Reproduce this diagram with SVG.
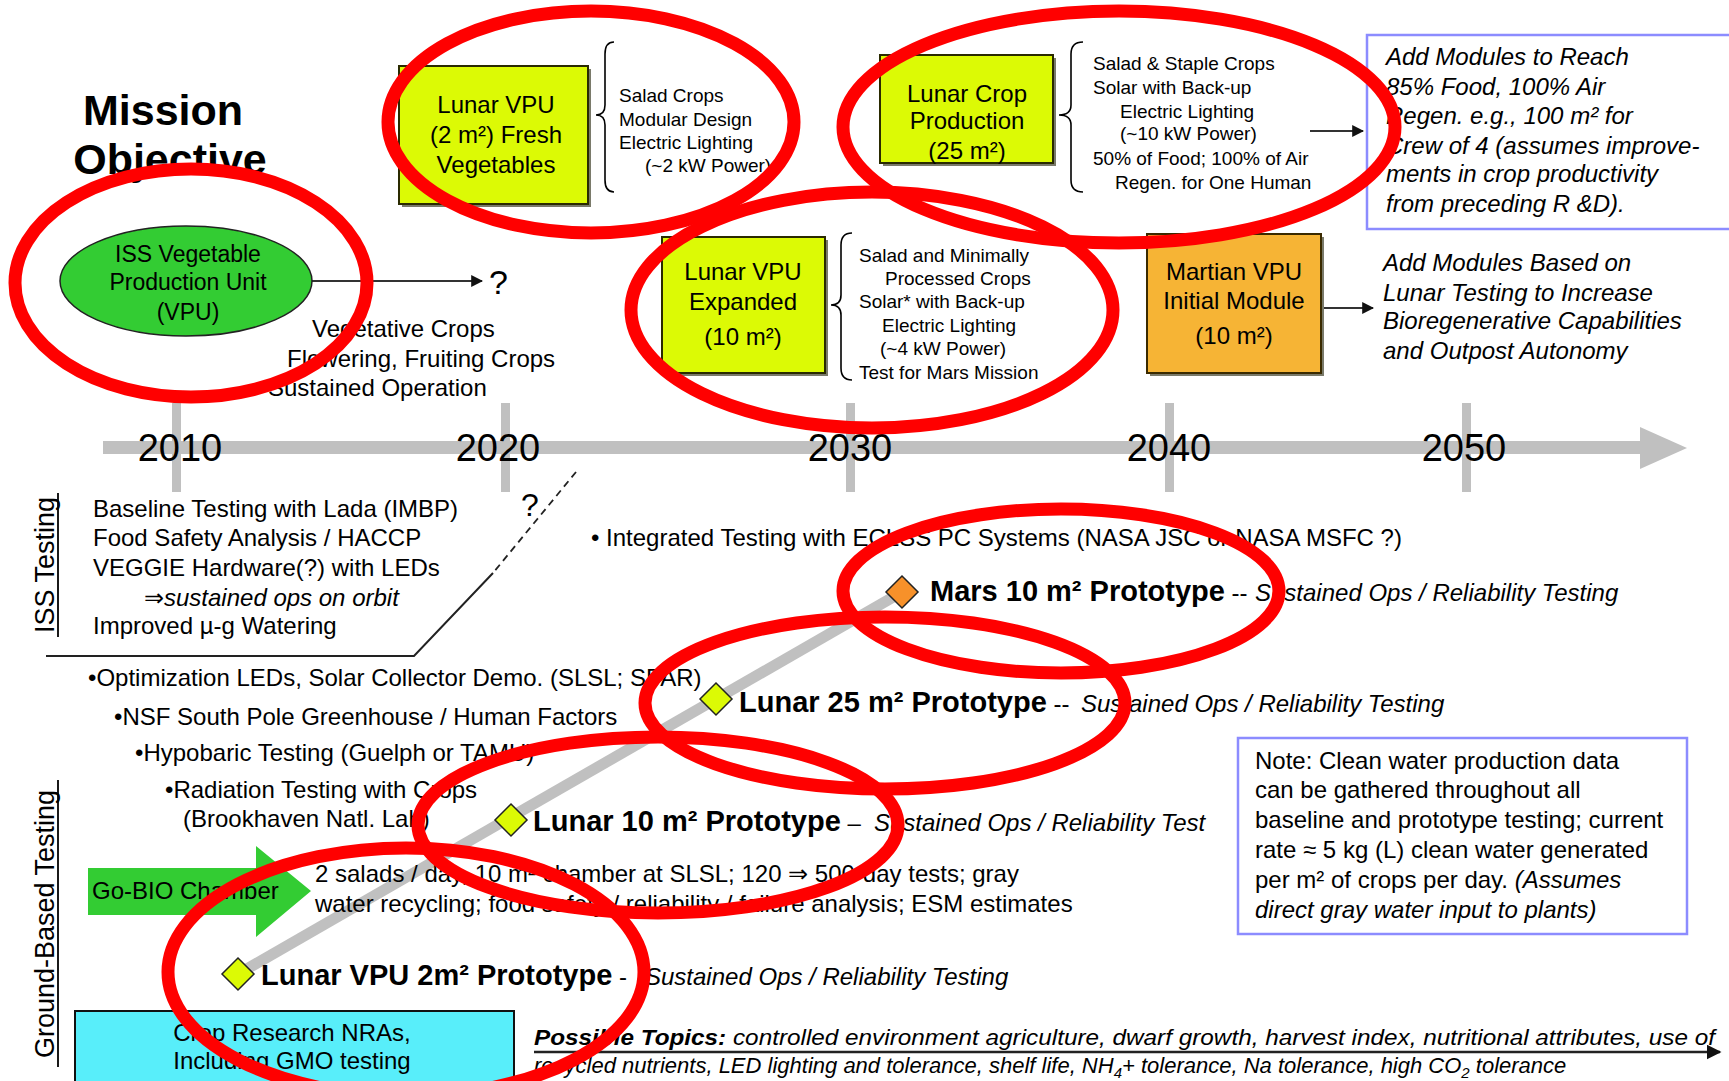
<svg xmlns="http://www.w3.org/2000/svg" width="1729" height="1081" viewBox="0 0 1729 1081">
<style>
text{font-family:"Liberation Sans",Arial,Helvetica,sans-serif;fill:#000}
.f24{font-size:24px}
.f19{font-size:19px}
.it{font-style:italic}
.b{font-weight:bold}
.mid{text-anchor:middle}
.ybox{fill:#dcfa05;stroke:#2a2a00;stroke-width:2}
.obox{fill:#f6b435;stroke:#3a2a00;stroke-width:2}
.shadow{fill:#7a7a6a}
.bluebox{fill:#fff;stroke:#8c8cff;stroke-width:2.5}
.brace{fill:none;stroke:#000;stroke-width:1.6}
.conn{fill:none;stroke:#333;stroke-width:2}
.tl{fill:#c0c0c0}
.dia{fill:#dcfa05;stroke:#222;stroke-width:1.5}
.red{fill:none;stroke:#ff0000;stroke-width:13}
.year{font-size:38px}
.proto{font-size:29px;font-weight:bold}
</style>
<defs>
<marker id="ah" viewBox="0 0 10 10" refX="9" refY="5" markerWidth="6" markerHeight="6" orient="auto" markerUnits="strokeWidth">
<path d="M0,0 L10,5 L0,10 z" fill="#111"/>
</marker>
</defs>
<rect width="1729" height="1081" fill="#fff"/>

<g id="title">
<text class="b mid" x="163" y="125" font-size="43">Mission</text>
<text class="b mid" x="170" y="174" font-size="43">Objective</text>
</g>

<g id="connectors">
<rect class="tl" x="103" y="441" width="1537" height="13"/>
<polygon class="tl" points="1640,427 1687,448 1640,469"/>
<rect class="tl" x="172" y="403" width="9" height="89"/>
<rect class="tl" x="501" y="403" width="9" height="89"/>
<rect class="tl" x="846" y="403" width="9" height="89"/>
<rect class="tl" x="1165" y="403" width="9" height="89"/>
<rect class="tl" x="1462" y="403" width="9" height="89"/>
<line x1="238" y1="974" x2="902" y2="592" stroke="#c0c0c0" stroke-width="11"/>
<line class="conn" x1="310" y1="281" x2="482" y2="281" marker-end="url(#ah)"/>
<line class="conn" x1="1310" y1="131" x2="1363" y2="131" stroke="#222" marker-end="url(#ah)"/>
<line class="conn" x1="1321" y1="308" x2="1373" y2="308" stroke="#222" marker-end="url(#ah)"/>
<line x1="576" y1="472" x2="493" y2="573" stroke="#222" stroke-width="1.8" stroke-dasharray="7,5"/>
<polyline points="493,573 414,656 46,656" fill="none" stroke="#222" stroke-width="2"/>
<line x1="534" y1="1052" x2="1720" y2="1052" stroke="#222" stroke-width="2.5" marker-end="url(#ah)"/>
</g>

<g id="years">
<text class="year mid" x="180" y="461">2010</text>
<text class="year mid" x="498" y="461">2020</text>
<text class="year mid" x="850" y="461">2030</text>
<text class="year mid" x="1169" y="461">2040</text>
<text class="year mid" x="1464" y="461">2050</text>
</g>

<g id="iss-vpu">
<ellipse cx="186" cy="281" rx="126" ry="55" fill="#33cc33" stroke="#222" stroke-width="1.5"/>
<text class="mid" font-size="23" x="188" y="262">ISS Vegetable</text>
<text class="mid" font-size="23" x="188" y="290">Production Unit</text>
<text class="mid" font-size="23" x="188" y="320">(VPU)</text>
<text x="489" y="294" font-size="34">?</text>
<text class="f24" x="312" y="337">Vegetative Crops</text>
<text class="f24" x="287" y="367">Flowering, Fruiting Crops</text>
<text class="f24" x="268" y="396">Sustained Operation</text>
</g>

<g id="lunar-vpu-2">
<rect class="shadow" x="402" y="69" width="189" height="138"/>
<rect class="ybox" x="399" y="66" width="189" height="138"/>
<text class="f24 mid" x="496" y="113">Lunar VPU</text>
<text class="f24 mid" x="496" y="143">(2 m²) Fresh</text>
<text class="f24 mid" x="496" y="173">Vegetables</text>
<path class="brace" d="M614,42 Q605,42 605,54 L605,105 Q605,115 596,115 Q605,115 605,125 L605,180 Q605,192 614,192"/>
<text class="f19" x="619" y="102">Salad Crops</text>
<text class="f19" x="619" y="126">Modular Design</text>
<text class="f19" x="619" y="149">Electric Lighting</text>
<text class="f19" x="645" y="172">(~2 kW Power)</text>
</g>

<g id="lunar-crop">
<rect class="shadow" x="883" y="58" width="173" height="108"/>
<rect class="ybox" x="880" y="55" width="173" height="108"/>
<text class="f24 mid" x="967" y="102">Lunar Crop</text>
<text class="f24 mid" x="967" y="129">Production</text>
<text class="f24 mid" x="967" y="159">(25 m²)</text>
<path class="brace" d="M1083,42 Q1071,42 1071,54 L1071,105 Q1071,115 1059,115 Q1071,115 1071,125 L1071,180 Q1071,192 1083,192"/>
<text class="f19" x="1093" y="70">Salad &amp; Staple Crops</text>
<text class="f19" x="1093" y="94">Solar with Back-up</text>
<text class="f19" x="1120" y="118">Electric Lighting</text>
<text class="f19" x="1120" y="140">(~10 kW Power)</text>
<text class="f19" x="1093" y="165">50% of Food; 100% of Air</text>
<text class="f19" x="1115" y="189">Regen. for One Human</text>
</g>

<g id="add-modules">
<rect class="bluebox" x="1367" y="35" width="380" height="194"/>
<text class="f24 it" x="1386" y="65">Add Modules to Reach</text>
<text class="f24 it" x="1386" y="95">85% Food, 100% Air</text>
<text class="f24 it" x="1386" y="124">Regen. e.g., 100 m² for</text>
<text class="f24 it" x="1386" y="154">Crew of 4 (assumes improve-</text>
<text class="f24 it" x="1386" y="182">ments in crop productivity</text>
<text class="f24 it" x="1386" y="212">from preceding R &amp;D).</text>
</g>

<g id="lunar-vpu-expanded">
<rect class="shadow" x="665" y="240" width="163" height="136"/>
<rect class="ybox" x="662" y="237" width="163" height="136"/>
<text class="f24 mid" x="743" y="280">Lunar VPU</text>
<text class="f24 mid" x="743" y="310">Expanded</text>
<text class="f24 mid" x="743" y="345">(10 m²)</text>
<path class="brace" d="M852,233 Q841,233 841,245 L841,295 Q841,305 831,305 Q841,305 841,315 L841,368 Q841,380 852,380"/>
<text class="f19" x="859" y="262">Salad and Minimally</text>
<text class="f19" x="885" y="285">Processed Crops</text>
<text class="f19" x="859" y="308">Solar* with Back-up</text>
<text class="f19" x="882" y="332">Electric Lighting</text>
<text class="f19" x="880" y="355">(~4 kW Power)</text>
<text class="f19" x="859" y="379">Test for Mars Mission</text>
</g>

<g id="martian-vpu">
<rect class="shadow" x="1150" y="237" width="174" height="139"/>
<rect class="obox" x="1147" y="234" width="174" height="139"/>
<text class="f24 mid" x="1234" y="280">Martian VPU</text>
<text class="f24 mid" x="1234" y="309">Initial Module</text>
<text class="f24 mid" x="1234" y="344">(10 m²)</text>
</g>

<g id="martian-text">
<text class="f24 it" x="1383" y="271">Add Modules Based on</text>
<text class="f24 it" x="1383" y="301">Lunar Testing to Increase</text>
<text class="f24 it" x="1383" y="329">Bioregenerative Capabilities</text>
<text class="f24 it" x="1383" y="359">and Outpost Autonomy</text>
</g>

<g id="iss-testing">
<text transform="translate(54,565) rotate(-90)" class="mid" font-size="27">ISS Testing</text>
<line x1="58" y1="493" x2="58" y2="637" stroke="#000" stroke-width="1.8"/>
<text class="f24" x="93" y="517">Baseline Testing with Lada (IMBP)</text>
<text class="f24" x="93" y="546">Food Safety Analysis / HACCP</text>
<text class="f24" x="93" y="576">VEGGIE Hardware(?) with LEDs</text>
<text class="f24" x="144" y="606">⇒<tspan class="it">sustained ops on orbit</tspan></text>
<text class="f24" x="93" y="634">Improved µ-g Watering</text>
<text x="521" y="516" font-size="32">?</text>
</g>

<g id="integrated">
<text class="f24" x="591" y="546">• Integrated Testing with ECLSS PC Systems (NASA JSC or NASA MSFC ?)</text>
</g>

<g id="ground-testing">
<text transform="translate(54,924) rotate(-90)" class="mid" font-size="27">Ground-Based Testing</text>
<line x1="58" y1="780" x2="58" y2="1067" stroke="#000" stroke-width="1.8"/>
<text class="f24" x="88" y="686">•Optimization LEDs, Solar Collector Demo. (SLSL; SPAR)</text>
<text class="f24" x="114" y="725">•NSF South Pole Greenhouse / Human Factors</text>
<text class="f24" x="135" y="761">•Hypobaric Testing (Guelph or TAMU)</text>
<text class="f24" x="165" y="798">•Radiation Testing with Crops</text>
<text class="f24" x="183" y="827">(Brookhaven Natl. Lab)</text>
</g>

<g id="mars-proto">
<polygon points="902,576 918,592 902,608 886,592" fill="#f7912a" stroke="#222" stroke-width="1.5"/>
<text class="f24" x="930" y="601"><tspan class="proto">Mars 10 m² Prototype</tspan> --<tspan class="it" x="1255">Sustained Ops / Reliability Testing</tspan></text>
</g>

<g id="lunar25-proto">
<polygon class="dia" points="716,683 732,699 716,715 700,699"/>
<text class="f24" x="739" y="712"><tspan class="proto">Lunar 25 m² Prototype</tspan> --<tspan class="it" x="1081">Sustained Ops / Reliability Testing</tspan></text>
</g>

<g id="lunar10-proto">
<polygon class="dia" points="511,804 527,820 511,836 495,820"/>
<text class="f24" x="533" y="831"><tspan class="proto">Lunar 10 m² Prototype</tspan> –<tspan class="it" x="874">Sustained Ops / Reliability Test</tspan></text>
</g>

<g id="gobio">
<polygon points="88,868 256,868 256,846 311,891 256,937 256,915 88,915" fill="#33cc33"/>
<text class="f24" x="92" y="899">Go-BIO Chamber</text>
<text class="f24" x="315" y="882">2 salads / day, 10 m² chamber at SLSL; 120 ⇒ 500-day tests; gray</text>
<text class="f24" x="315" y="912">water recycling; food safety / reliability / failure analysis; ESM estimates</text>
</g>

<g id="lunarvpu2-proto">
<polygon class="dia" points="238,958 254,974 238,990 222,974"/>
<text class="f24" x="261" y="985"><tspan class="proto">Lunar VPU 2m² Prototype</tspan> -<tspan class="it" x="645">Sustained Ops / Reliability Testing</tspan></text>
</g>

<g id="note">
<rect class="bluebox" x="1238" y="738" width="449" height="196"/>
<text class="f24" x="1255" y="769">Note: Clean water production data</text>
<text class="f24" x="1255" y="798">can be gathered throughout all</text>
<text class="f24" x="1255" y="828">baseline and prototype testing; current</text>
<text class="f24" x="1255" y="858">rate ≈ 5 kg (L) clean water generated</text>
<text class="f24" x="1255" y="888">per m² of crops per day. <tspan class="it">(Assumes</tspan></text>
<text class="f24 it" x="1255" y="918">direct gray water input to plants)</text>
</g>

<g id="crop-nras">
<rect x="75" y="1011" width="439" height="90" fill="#58eefa" stroke="#111" stroke-width="2"/>
<text class="f24 mid" x="292" y="1041">Crop Research NRAs,</text>
<text class="f24 mid" x="292" y="1069">Including GMO testing</text>
</g>

<g id="topics">
<text class="it" font-size="22" x="534" y="1045" textLength="1181" lengthAdjust="spacingAndGlyphs"><tspan class="b">Possible Topics:</tspan> controlled environment agriculture, dwarf growth, harvest index, nutritional attributes, use of</text>
<text class="it" font-size="22" x="534" y="1073">recycled nutrients, LED lighting and tolerance, shelf life, NH<tspan font-size="15" dy="5">4</tspan><tspan dy="-5">+ tolerance, Na tolerance, high CO</tspan><tspan font-size="15" dy="5">2</tspan><tspan dy="-5"> tolerance</tspan></text>
</g>

<g id="highlights">
<ellipse class="red" cx="191" cy="283" rx="176" ry="114"/>
<ellipse class="red" cx="591" cy="122" rx="203" ry="111"/>
<ellipse class="red" cx="1119" cy="127" rx="276" ry="116"/>
<ellipse class="red" cx="872" cy="310" rx="241" ry="118"/>
<ellipse class="red" cx="1061" cy="591" rx="218" ry="82"/>
<ellipse class="red" cx="885" cy="703" rx="240" ry="86"/>
<ellipse class="red" cx="658" cy="825" rx="240" ry="88"/>
<ellipse class="red" cx="406" cy="972" rx="238" ry="124"/>
</g>
</svg>
